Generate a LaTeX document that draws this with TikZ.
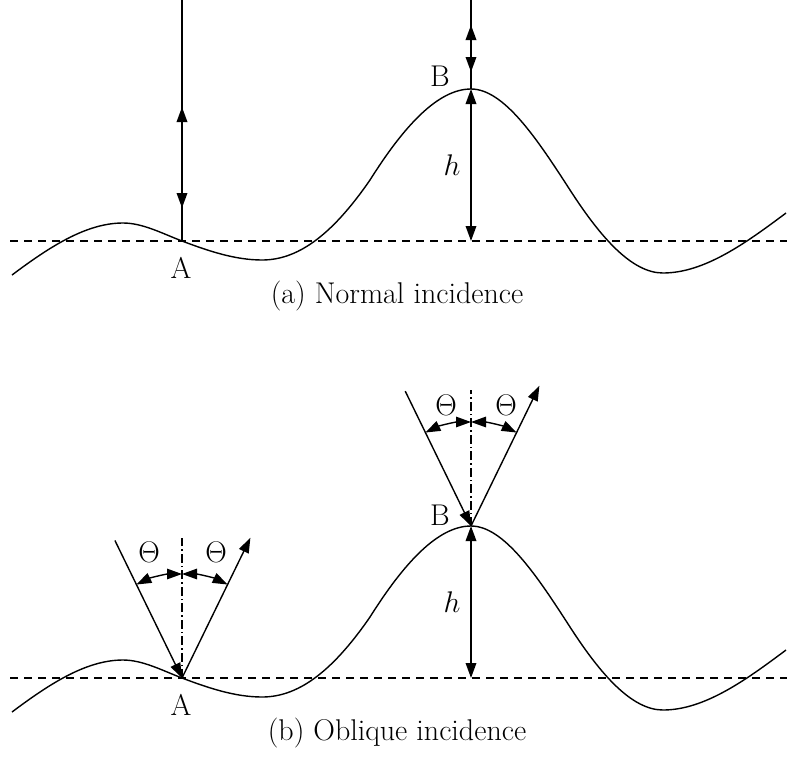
\documentclass[tikz,border=0pt]{standalone}
\usetikzlibrary{arrows.meta,calc}
\begin{document}
\begin{tikzpicture}[x=1pt,y=-1pt,
  surf/.style={line width=1.4pt},
  base/.style={line width=1.3pt, dash pattern=on 8pt off 6pt},
  normal/.style={line width=1.1pt, dash pattern=on 9pt off 3pt on 1.5pt off 3pt},
  ray/.style={line width=1.4pt},
  tip/.tip={Triangle[length=15pt,width=10.5pt]},
  dbl/.style={line width=1.8pt, {tip}-{tip}},
  lbl/.style={font=\fontsize{30}{34}\selectfont, inner sep=0pt},
  mlbl/.style={font=\fontsize{24.88}{28}\selectfont, inner sep=0pt, scale=1.2}]
\useasboundingbox (0,0) rectangle (787,758);

\def\surface{(12,275) .. controls (49,247.25) and (86,223) .. (123,223)
  .. controls (142.67,223) and (162.33,233.5) .. (182,241)
  .. controls (208.67,251.1) and (235.33,260) .. (262,260)
  .. controls (296,260) and (330,238) .. (370,180)
  .. controls (404,126) and (438,89) .. (471,89)
  .. controls (504,89) and (537,138.85) .. (570,190)
  .. controls (601,238.05) and (632,273) .. (663,273)
  .. controls (704,273) and (745,243.75) .. (786,213)}

% ---------- (a) Normal incidence ----------
\draw[base] (10,241) -- (787,241);
\draw[surf] \surface;
\coordinate (A1) at (182,241);
\coordinate (B1) at (471,89);
\coordinate (A1top) at (182,0);
\coordinate (A1u) at (182,107);
\coordinate (A1d) at (182,208);
\coordinate (B1top) at (471,0);
\coordinate (B1u) at (471,25);
\coordinate (B1d) at (471,72);
\coordinate (B1base) at (471,241);
\draw[ray] (A1top) -- (A1);
\draw[dbl] (A1u) -- (A1d);
\draw[ray] (B1top) -- (B1);
\draw[dbl] (B1u) -- (B1d);
\draw[dbl] (B1) -- (B1base);
\node[lbl] (LA1) at (181,268) {A};
\node[lbl] (LB1) at (440,76) {B};
\node[mlbl] (LH1) at (452,165) {$h$};
\node[lbl] (capa) at (397,296) {(a) Normal incidence};

% ---------- (b) Oblique incidence ----------
\begin{scope}[shift={(0,437)}]
\draw[base] (10,241) -- (787,241);
\draw[surf] \surface;
\coordinate (A2) at (182,241);
\coordinate (B2) at (471,89);
\coordinate (B2base) at (471,241);
\coordinate (A2n) at (182,101);
\coordinate (B2n) at (471,-47);
\draw[normal] (A2) -- (A2n);
\draw[normal] (B2) -- (B2n);
\coordinate (A2in) at ($(A2)+(-116:153)$);
\coordinate (A2out) at ($(A2)+(-64:156)$);
\coordinate (B2in) at ($(B2)+(-116:150)$);
\coordinate (B2out) at ($(B2)+(-64:156)$);
\draw[ray,-{tip}] (A2in) -- (A2);
\draw[ray,-{tip}] (A2) -- (A2out);
\draw[ray,-{tip}] (B2in) -- (B2);
\draw[ray,-{tip}] (B2) -- (B2out);
\draw[ray,{tip}-{tip}] ($(A2)+(-116:104)$) arc[start angle=-116,end angle=-90,radius=104];
\draw[ray,{tip}-{tip}] ($(A2)+(-64:104)$) arc[start angle=-64,end angle=-90,radius=104];
\draw[ray,{tip}-{tip}] ($(B2)+(-116:104)$) arc[start angle=-116,end angle=-90,radius=104];
\draw[ray,{tip}-{tip}] ($(B2)+(-64:104)$) arc[start angle=-64,end angle=-90,radius=104];
\draw[dbl] (B2) -- (B2base);
\node[mlbl] (TA1) at (149,115) {$\Theta$};
\node[mlbl] (TA2) at (216,115) {$\Theta$};
\node[mlbl] (TB1) at (446,-32) {$\Theta$};
\node[mlbl] (TB2) at (506,-32) {$\Theta$};
\node[lbl] (LA2) at (181,268) {A};
\node[lbl] (LB2) at (440,78) {B};
\node[mlbl] (LH2) at (452,165) {$h$};
\node[lbl] (capb) at (397,296) {(b) Oblique incidence};
\end{scope}
\end{tikzpicture}
\end{document}
